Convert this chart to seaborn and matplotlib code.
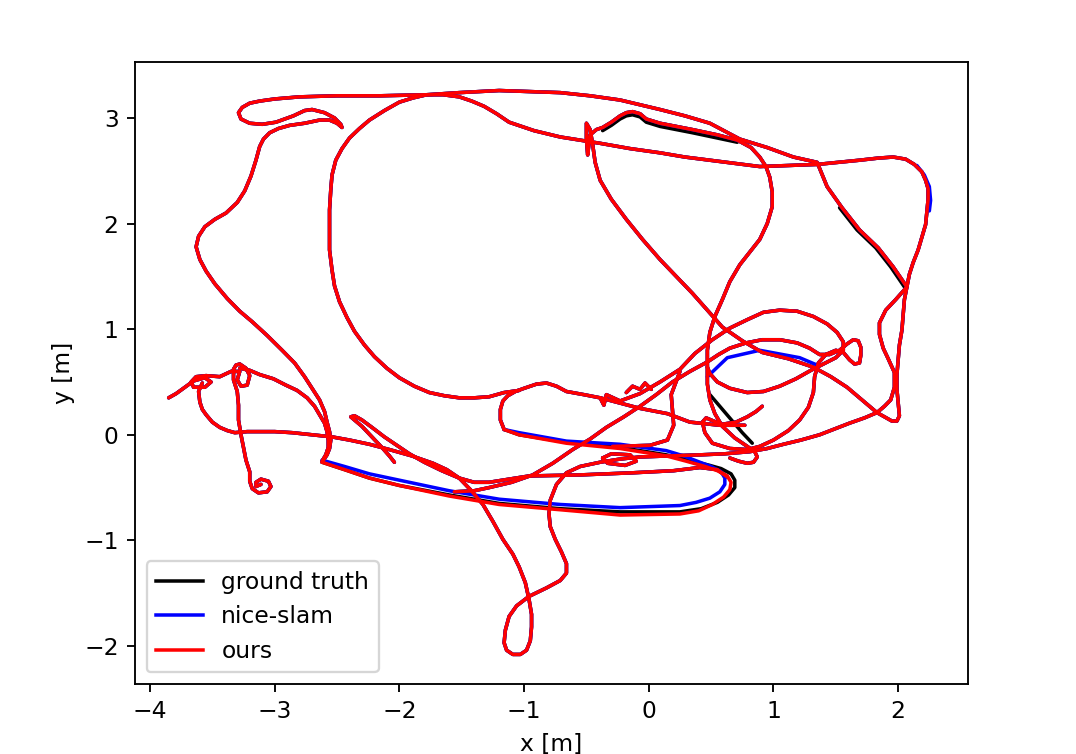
import numpy as np
import pandas as pd
import seaborn as sns
import matplotlib
matplotlib.use("Agg")
import matplotlib.pyplot as plt

series_names = ["ground truth", "nice-slam", "ours"]
series_colors = ["black", "blue", "red"]

# ---- trajectory pieces (metres) ----
# bottom-left spiral, climb and scribble cluster with tail
segA_x = [-3.11, -3.15, -3.15, -3.11, -3.05, -3.03, -3.06, -3.13, -3.18, -3.20, -3.20, -3.23, -3.25, -3.27, -3.29,
          -3.29, -3.30, -3.33, -3.33, -3.31, -3.28, -3.23, -3.20, -3.22, -3.27, -3.30, -3.28, -3.35, -3.44, -3.55,
          -3.63, -3.67, -3.65, -3.56, -3.51, -3.56, -3.65, -3.72, -3.79, -3.85]
segA_y = [-0.47, -0.49, -0.45, -0.42, -0.44, -0.49, -0.54, -0.55, -0.51, -0.44, -0.35, -0.24, -0.12, 0.00, 0.14,
          0.28, 0.41, 0.52, 0.62, 0.66, 0.67, 0.63, 0.56, 0.47, 0.46, 0.52, 0.60, 0.60, 0.55, 0.56,
          0.55, 0.50, 0.45, 0.45, 0.50, 0.54, 0.51, 0.45, 0.39, 0.35]
# arc from the cluster down to the lower-left corner
segB_x = [-3.28, -3.20, -3.12, -3.01, -2.91, -2.82, -2.74, -2.68, -2.64, -2.60, -2.58, -2.57, -2.57, -2.59, -2.62]
segB_y = [0.63, 0.61, 0.57, 0.53, 0.47, 0.42, 0.35, 0.27, 0.19, 0.11, 0.03, -0.05, -0.12, -0.19, -0.25]
# lower-left loop, eastward line, southern loop, right side, top line, top-left hook, west lobe
segC1_x = [-3.58, -3.61, -3.60, -3.58, -3.55, -3.50, -3.44, -3.38, -3.32, -3.22, -3.12, -3.00, -2.86, -2.70, -2.54,
           -2.40, -2.24, -2.08, -1.90, -1.73, -1.62, -1.52, -1.43, -1.33, -1.25, -1.17, -1.09, -1.04, -0.99, -0.96,
           -0.94, -0.94, -0.95, -0.98, -1.03, -1.09, -1.14, -1.16, -1.15, -1.12, -1.06, -0.96, -0.82, -0.71, -0.66,
           -0.66, -0.70, -0.75, -0.79, -0.80, -0.79, -0.74, -0.66, -0.55, -0.39, -0.23, -0.07, 0.17, 0.41, 0.61,
           0.81, 0.95, 1.08, 1.22, 1.37, 1.50, 1.61, 1.73, 1.83, 1.89, 1.94, 1.97, 1.97, 1.92, 1.88,
           1.85, 1.85, 1.90, 1.98, 2.07, 1.96, 1.84, 1.69, 1.55, 1.43, 1.35, 1.16, 0.95, 0.73, 0.49,
           0.29, 0.09, -0.23, -0.47, -0.71, -0.95, -1.20, -1.52, -1.78, -2.16, -2.50, -2.80, -3.00, -3.12, -3.20,
           -3.26, -3.29, -3.27, -3.20, -3.10, -2.99, -2.85, -2.76, -2.70, -2.60, -2.52, -2.47, -2.46, -2.50, -2.56,
           -2.64, -2.76, -2.88, -2.97, -3.04, -3.09, -3.12, -3.15, -3.19, -3.24, -3.30, -3.39, -3.48, -3.56, -3.61,
           -3.63, -3.60, -3.55, -3.48, -3.38, -3.28, -3.18, -3.06, -2.94, -2.84, -2.76, -2.70, -2.64, -2.60, -2.58,
           -2.56, -2.55, -2.56, -2.58, -2.62]
segC1_y = [0.49, 0.41, 0.31, 0.24, 0.19, 0.12, 0.07, 0.04, 0.02, 0.03, 0.03, 0.03, 0.02, 0.00, -0.02,
           -0.05, -0.09, -0.14, -0.20, -0.27, -0.33, -0.41, -0.52, -0.66, -0.82, -0.99, -1.13, -1.25, -1.40, -1.56,
           -1.70, -1.82, -1.95, -2.04, -2.08, -2.08, -2.04, -1.97, -1.85, -1.72, -1.62, -1.53, -1.45, -1.38, -1.31,
           -1.22, -1.11, -0.99, -0.87, -0.75, -0.62, -0.47, -0.36, -0.30, -0.26, -0.23, -0.21, -0.20, -0.19, -0.18,
           -0.16, -0.13, -0.09, -0.05, 0.00, 0.06, 0.11, 0.16, 0.21, 0.27, 0.33, 0.45, 0.59, 0.72, 0.82,
           0.95, 1.06, 1.18, 1.28, 1.40, 1.59, 1.77, 1.94, 2.15, 2.35, 2.58, 2.63, 2.72, 2.80, 2.95,
           3.02, 3.08, 3.17, 3.21, 3.24, 3.25, 3.26, 3.24, 3.22, 3.21, 3.21, 3.20, 3.18, 3.16, 3.14,
           3.10, 3.05, 2.99, 2.95, 2.94, 2.96, 3.02, 3.07, 3.08, 3.05, 3.00, 2.94, 2.91, 2.95, 2.98,
           2.98, 2.95, 2.93, 2.90, 2.86, 2.80, 2.73, 2.60, 2.45, 2.31, 2.20, 2.10, 2.04, 1.97, 1.88,
           1.78, 1.66, 1.55, 1.43, 1.29, 1.17, 1.07, 0.94, 0.80, 0.68, 0.55, 0.44, 0.33, 0.22, 0.12,
           0.03, -0.05, -0.13, -0.19, -0.26]
# elongated southern loop, one reading per method
loop_gt_x = [-2.62, -2.44, -2.24, -2.00, -1.60, -1.20, -0.71, -0.23, 0.25, 0.42, 0.55, 0.64, 0.69, 0.69, 0.66,
             0.58, 0.49, 0.32, 0.14, -0.23, -0.66, -1.04, -1.16]
loop_gt_y = [-0.26, -0.33, -0.41, -0.48, -0.57, -0.65, -0.70, -0.73, -0.73, -0.70, -0.64, -0.57, -0.50, -0.43, -0.37,
             -0.32, -0.29, -0.24, -0.19, -0.12, -0.07, 0.00, 0.05]
loop_nice_x = [-2.62, -2.44, -2.24, -2.00, -1.60, -1.20, -0.71, -0.23, 0.25, 0.38, 0.49, 0.57, 0.61, 0.61, 0.58,
               0.50, 0.41, 0.28, 0.14, -0.23, -0.66, -1.04, -1.16]
loop_nice_y = [-0.24, -0.30, -0.37, -0.43, -0.53, -0.61, -0.66, -0.69, -0.67, -0.64, -0.60, -0.54, -0.47, -0.41, -0.35,
               -0.30, -0.26, -0.20, -0.15, -0.09, -0.06, 0.02, 0.05]
loop_ours_x = [-2.62, -2.44, -2.24, -2.00, -1.60, -1.20, -0.71, -0.23, 0.25, 0.40, 0.51, 0.60, 0.65, 0.66, 0.63,
               0.55, 0.45, 0.30, 0.14, -0.23, -0.66, -1.04, -1.16]
loop_ours_y = [-0.26, -0.33, -0.41, -0.48, -0.58, -0.66, -0.71, -0.76, -0.75, -0.72, -0.66, -0.59, -0.52, -0.45, -0.39,
               -0.34, -0.30, -0.25, -0.20, -0.13, -0.08, 0.00, 0.05]
# from the loop north and east into the right tangle
segC2_x = [-1.16, -1.19, -1.19, -1.17, -1.13, -1.07, -1.00, -0.90, -0.82, -0.74, -0.66, -0.52, -0.39, -0.36, -0.34,
           -0.23, -0.07, 0.09, 0.25, 0.37, 0.51, 0.65, 0.79, 0.92, 1.05, 1.19, 1.32, 1.43, 1.51, 1.56,
           1.56, 1.50, 1.40, 1.30, 1.18, 1.05, 0.92, 0.79, 0.65, 0.55, 0.49, 0.47]
segC2_y = [0.05, 0.14, 0.24, 0.32, 0.37, 0.41, 0.44, 0.48, 0.49, 0.46, 0.41, 0.38, 0.35, 0.28, 0.38,
           0.32, 0.39, 0.50, 0.62, 0.77, 0.90, 1.01, 1.09, 1.16, 1.18, 1.17, 1.12, 1.05, 0.97, 0.88,
           0.80, 0.73, 0.67, 0.61, 0.53, 0.46, 0.41, 0.40, 0.44, 0.50, 0.58, 0.64]
# central lobe, upper branch, east side and teardrop
segD_x = [-1.04, -1.16, -1.28, -1.40, -1.52, -1.64, -1.76, -1.88, -2.00, -2.10, -2.20, -2.28, -2.36, -2.42, -2.48,
          -2.52, -2.54, -2.56, -2.56, -2.56, -2.55, -2.54, -2.51, -2.46, -2.40, -2.32, -2.24, -2.12, -2.00, -1.89,
          -1.78, -1.65, -1.52, -1.42, -1.32, -1.22, -1.12, -0.92, -0.71, -0.55, -0.39, -0.15, 0.09, 0.29, 0.49,
          0.69, 0.89, 1.12, 1.35, 1.52, 1.69, 1.84, 1.96, 2.06, 2.13, 2.19, 2.22, 2.24, 2.24, 2.23,
          2.22, 2.19, 2.16, 2.12, 2.09, 2.07, 2.05, 2.04, 2.03, 2.01, 2.00, 1.99, 1.99, 2.00, 2.01,
          1.99, 1.95, 1.89, 1.83, 1.71, 1.59, 1.46, 1.32, 1.12, 0.91, 0.75, 0.59, 0.47, 0.35, 0.22,
          0.09, -0.05, -0.18, -0.30, -0.39, -0.43, -0.45, -0.47, -0.50, -0.50, -0.49, -0.48, -0.47, -0.42, -0.37,
          -0.30, -0.23, -0.18, -0.13, -0.07, -0.02, 0.09, 0.22, 0.35, 0.55, 0.71, 0.82, 0.89, 0.94, 0.97,
          0.99, 0.99, 0.95, 0.89, 0.81, 0.73, 0.65, 0.59, 0.53, 0.49, 0.47, 0.47, 0.47, 0.49, 0.53,
          0.59, 0.69, 0.79, 0.85, 0.87, 0.84, 0.79, 0.72, 0.65]
segD_y = [0.42, 0.40, 0.36, 0.35, 0.35, 0.37, 0.40, 0.46, 0.54, 0.63, 0.74, 0.85, 0.98, 1.11, 1.26,
          1.41, 1.56, 1.75, 1.94, 2.13, 2.32, 2.46, 2.60, 2.71, 2.81, 2.90, 2.98, 3.07, 3.15, 3.19,
          3.22, 3.22, 3.20, 3.16, 3.11, 3.04, 2.96, 2.88, 2.82, 2.79, 2.76, 2.71, 2.67, 2.63, 2.60,
          2.57, 2.54, 2.55, 2.56, 2.58, 2.60, 2.62, 2.63, 2.61, 2.56, 2.49, 2.41, 2.33, 2.23, 2.11,
          1.99, 1.87, 1.75, 1.63, 1.52, 1.40, 1.28, 1.13, 0.99, 0.85, 0.71, 0.57, 0.43, 0.30, 0.18,
          0.13, 0.13, 0.17, 0.21, 0.33, 0.45, 0.55, 0.64, 0.72, 0.78, 0.89, 1.02, 1.18, 1.34, 1.50,
          1.66, 1.85, 2.04, 2.23, 2.41, 2.58, 2.75, 2.89, 2.95, 2.80, 2.65, 2.75, 2.84, 2.89, 2.91,
          2.96, 3.02, 3.05, 3.06, 3.04, 2.99, 2.95, 2.92, 2.89, 2.84, 2.79, 2.72, 2.63, 2.54, 2.44,
          2.30, 2.16, 2.00, 1.85, 1.73, 1.61, 1.45, 1.28, 1.12, 0.97, 0.80, 0.64, 0.48, 0.33, 0.20,
          0.08, -0.03, -0.11, -0.16, -0.21, -0.26, -0.27, -0.25, -0.22]
# thin diagonal loop and inner eastward line
segE_x = [-2.04, -2.08, -2.14, -2.22, -2.30, -2.36, -2.39, -2.36, -2.30, -2.22, -2.12, -2.02, -1.92, -1.80, -1.66,
          -1.52, -1.40, -1.28, -1.12, -0.96, -0.55, -0.13, 0.20, 0.41, 0.55, 0.63]
segE_y = [-0.26, -0.20, -0.12, -0.02, 0.08, 0.14, 0.17, 0.18, 0.14, 0.07, -0.02, -0.10, -0.18, -0.26, -0.34,
          -0.41, -0.45, -0.45, -0.42, -0.39, -0.38, -0.36, -0.34, -0.31, -0.33, -0.40]
# long diagonal, knot and circle with hook
segF_x = [-1.56, -1.40, -1.28, -1.10, -0.93, -0.77, -0.61, -0.47, -0.34, -0.20, -0.07, 0.06, 0.19, 0.33, 0.47,
          0.56, 0.65, 0.78, 0.91, 1.05, 1.19, 1.29, 1.37, 1.45, 1.53, 1.59, 1.64, 1.68, 1.70, 1.70,
          1.69, 1.65, 1.61, 1.56, 1.50, 1.42, 1.36, 1.33, 1.32, 1.28, 1.21, 1.12, 1.00, 0.89, 0.79,
          0.65, 0.51, 0.45, 0.43, 0.46, 0.52, 0.59, 0.70, 0.79, 0.86, 0.91]
segF_y = [-0.54, -0.53, -0.50, -0.45, -0.38, -0.27, -0.14, -0.04, 0.07, 0.17, 0.27, 0.38, 0.50, 0.60, 0.69,
          0.76, 0.82, 0.87, 0.90, 0.90, 0.87, 0.82, 0.76, 0.76, 0.80, 0.86, 0.90, 0.89, 0.83, 0.75,
          0.68, 0.67, 0.71, 0.78, 0.80, 0.76, 0.68, 0.55, 0.40, 0.26, 0.14, 0.04, -0.05, -0.11, -0.14,
          -0.13, -0.08, 0.02, 0.12, 0.16, 0.13, 0.10, 0.12, 0.17, 0.22, 0.27]
# small pieces in the middle
segG_x = [-0.39, -0.07, 0.15, 0.33, 0.57, 0.77]
segG_y = [0.35, 0.25, 0.20, 0.12, 0.09, 0.09]
segG2_x = [0.25, 0.18, 0.20, 0.15, 0.01, -0.29]
segG2_y = [0.60, 0.38, 0.09, -0.05, -0.10, -0.11]
segH_x = [-0.37, -0.30, -0.15, -0.10, -0.19, -0.33, -0.37]
segH_y = [-0.22, -0.18, -0.19, -0.25, -0.29, -0.27, -0.22]
segI_x = [-0.18, -0.13, -0.07, -0.03, 0.02]
segI_y = [0.40, 0.46, 0.43, 0.49, 0.43]
# pieces where a single method departs visibly from the others
nice_lens_x = [0.47, 0.63, 0.89, 1.21, 1.35]
nice_lens_y = [0.55, 0.73, 0.80, 0.73, 0.66]
nice_corner_x = [2.15, 2.21, 2.25, 2.26, 2.25]
nice_corner_y = [2.55, 2.46, 2.35, 2.22, 2.12]
gt_extra_x = [0.49, 0.62, 0.75, 0.83]
gt_extra_y = [0.38, 0.20, 0.02, -0.08]
gt_diag_x = [1.53, 1.67, 1.82, 1.94, 2.05]
gt_diag_y = [2.15, 1.94, 1.77, 1.59, 1.40]
gt_bump_x = [-0.37, -0.30, -0.23, -0.18, -0.13, -0.07, -0.02, 0.09, 0.22, 0.35, 0.55, 0.71]
gt_bump_y = [2.88, 2.93, 2.99, 3.02, 3.03, 3.01, 2.96, 2.92, 2.89, 2.86, 2.81, 2.77]

common = {"A": (segA_x, segA_y), "B": (segB_x, segB_y), "C1": (segC1_x, segC1_y),
          "C2": (segC2_x, segC2_y), "D": (segD_x, segD_y), "E": (segE_x, segE_y),
          "F": (segF_x, segF_y), "G": (segG_x, segG_y), "G2": (segG2_x, segG2_y),
          "H": (segH_x, segH_y), "I": (segI_x, segI_y)}
per_series = {
    "ground truth": {"loop": (loop_gt_x, loop_gt_y), "extra": (gt_extra_x, gt_extra_y),
                     "diag": (gt_diag_x, gt_diag_y), "bump": (gt_bump_x, gt_bump_y)},
    "nice-slam": {"loop": (loop_nice_x, loop_nice_y), "extra": (nice_lens_x, nice_lens_y),
                  "corner": (nice_corner_x, nice_corner_y)},
    "ours": {"loop": (loop_ours_x, loop_ours_y)},
}

rows = []
for name in series_names:
    segs = dict(common)
    segs.update(per_series[name])
    for seg, (xs, ys) in segs.items():
        for xv, yv in zip(xs, ys):
            rows.append({"x": xv, "y": yv, "series": name, "seg": seg})
df = pd.DataFrame(rows)

fig = plt.figure(figsize=(1076 / 168, 754 / 168), dpi=168)
ax = fig.add_axes([135 / 1076, 70 / 754, (968 - 135) / 1076, (684 - 62) / 754])
sns.lineplot(data=df, x="x", y="y", hue="series", units="seg", estimator=None, sort=False,
             hue_order=series_names, palette=dict(zip(series_names, series_colors)),
             linewidth=1.5, ax=ax)
for ln in ax.lines:
    ln.set_solid_joinstyle("round")
    ln.set_solid_capstyle("round")
sns.move_legend(ax, "lower left", title=None)
ax.set_xlim(-4.12, 2.56)
ax.set_ylim(-2.36, 3.53)
ax.set_xticks([-4, -3, -2, -1, 0, 1, 2])
ax.set_yticks([-2, -1, 0, 1, 2, 3])
ax.set_xlabel("x [m]")
ax.set_ylabel("y [m]")
fig.savefig("out.png", dpi=168)
